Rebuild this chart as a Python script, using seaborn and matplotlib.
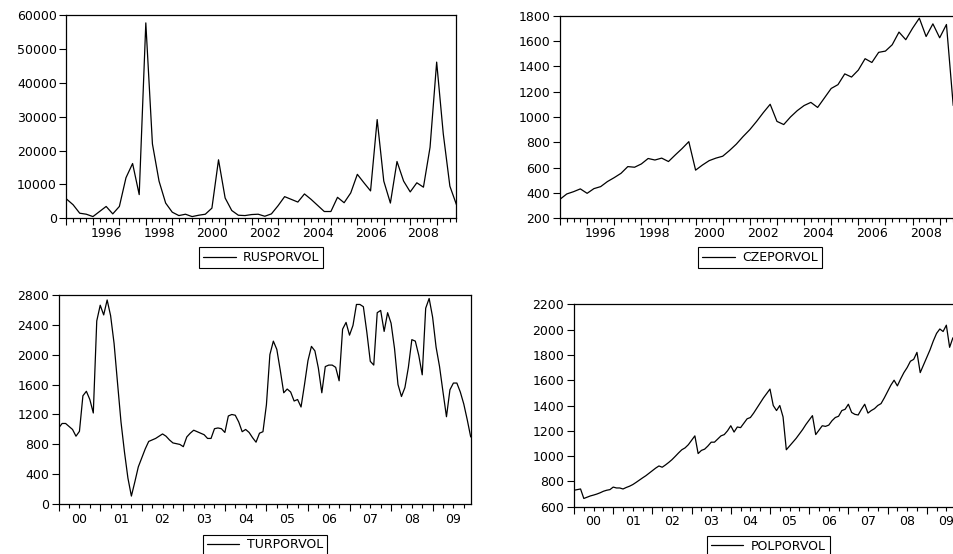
import numpy as np
import pandas as pd
import matplotlib
matplotlib.use("Agg")
from matplotlib import pyplot as plt
import seaborn as sns

# quarterly series, 1995Q1 onwards
rus_vol = [5700, 4000, 1500, 1200, 500, 2000, 3500, 1300, 3500, 12000,
           16200, 7000, 57800, 22000, 11000, 4500, 1800, 800, 1200, 500,
           900, 1200, 3000, 17300, 6000, 2300, 900, 800, 1100, 1200,
           600, 1300, 3700, 6400, 5600, 4800, 7200, 5600, 3800, 2000,
           2000, 6200, 4600, 7500, 13000, 10500, 8100, 29200, 11000, 4500,
           16800, 11000, 7800, 10500, 9200, 21000, 46200, 25000, 9500, 4000]
cze_vol = [350, 392, 410, 432, 397, 434, 450, 490, 521, 555,
           608, 603, 629, 672, 660, 675, 648, 700, 750, 805,
           580, 620, 655, 675, 690, 735, 785, 845, 900, 965,
           1035, 1100, 965, 940, 1000, 1050, 1090, 1115, 1075, 1150,
           1225, 1255, 1340, 1315, 1370, 1460, 1430, 1510, 1520, 1570,
           1670, 1610, 1700, 1780, 1635, 1735, 1625, 1730, 1090]

# monthly series, 2000M01 onwards
tur_vol = [1020, 1080, 1080, 1040, 1000, 910, 975, 1450, 1510, 1400,
           1220, 2450, 2660, 2530, 2730, 2520, 2150, 1620, 1100, 700,
           350, 110, 300, 500, 620, 740, 840, 860, 880, 910,
           940, 910, 860, 820, 810, 800, 770, 900, 950, 990,
           970, 950, 930, 880, 880, 1010, 1020, 1010, 960, 1180,
           1200, 1190, 1100, 970, 1000, 960, 890, 830, 950, 970,
           1330, 2000, 2180, 2070, 1790, 1490, 1540, 1500, 1380, 1400,
           1300, 1600, 1920, 2110, 2050, 1820, 1490, 1840, 1860, 1860,
           1830, 1650, 2340, 2430, 2260, 2390, 2670, 2670, 2640, 2300,
           1910, 1860, 2560, 2590, 2310, 2560, 2420, 2080, 1600, 1440,
           1560, 1830, 2200, 2180, 1990, 1730, 2620, 2750, 2500, 2100,
           1840, 1500, 1170, 1530, 1620, 1620, 1500, 1340, 1130, 900]
pol_vol = [730, 735, 740, 665, 675, 685, 692, 700, 710, 722,
           730, 735, 755, 748, 748, 740, 752, 762, 775, 792,
           810, 828, 845, 865, 885, 905, 922, 912, 930, 950,
           972, 998, 1025, 1050, 1065, 1090, 1125, 1160, 1020, 1045,
           1055, 1080, 1110, 1110, 1135, 1160, 1170, 1200, 1240, 1190,
           1230, 1225, 1260, 1295, 1305, 1340, 1380, 1420, 1460, 1495,
           1530, 1400, 1360, 1400, 1310, 1050, 1080, 1110, 1140, 1175,
           1210, 1250, 1285, 1320, 1170, 1205, 1240, 1235, 1245, 1280,
           1305, 1315, 1360, 1370, 1410, 1345, 1330, 1325, 1370, 1410,
           1340, 1360, 1375, 1400, 1415, 1460, 1510, 1560, 1600, 1555,
           1610, 1660, 1700, 1750, 1765, 1820, 1660, 1720, 1780, 1840,
           1910, 1970, 2005, 1985, 2035, 1860, 1935, 1945]

long_labels = ['1996', '1998', '2000', '2002', '2004', '2006', '2008']
short_labels = ['00', '01', '02', '03', '04', '05', '06', '07', '08', '09']

sns.set_style('ticks')
plt.rcParams['font.family'] = ['DejaVu Sans']
plt.rcParams['font.size'] = 9
plt.rcParams['text.color'] = 'black'
plt.rcParams['xtick.color'] = 'black'
plt.rcParams['ytick.color'] = 'black'
plt.rcParams['axes.edgecolor'] = 'black'

fig = plt.figure(figsize=(9.54, 5.54), dpi=100)


def draw_panel(rect, vals, name, start, freq, xlim, ylim, ystep, first_year, labels, leg_y):
    ax = fig.add_axes(rect)
    dates = start + np.arange(len(vals)) / freq
    df = pd.DataFrame({'date': dates, name: vals})
    sns.lineplot(data=df, x='date', y=name, ax=ax, color='black', linewidth=0.9, label=name)
    ax.set_xlim(*xlim)
    ax.set_ylim(*ylim)
    ax.set_yticks(np.arange(ylim[0], ylim[1] + 1, ystep))
    ax.set_xlabel('')
    ax.set_ylabel('')
    years = np.arange(np.ceil(xlim[0]), xlim[1] + 0.01)
    ax.set_xticks(years)
    ax.set_xticklabels([])
    ax.set_xticks(np.arange(xlim[0], xlim[1] + 0.01, 0.25), minor=True)
    ax.tick_params(axis='x', which='major', length=5, width=0.8, direction='out')
    ax.tick_params(axis='x', which='minor', length=3, width=0.8, direction='out')
    ax.tick_params(axis='y', length=5, width=0.8, direction='out', pad=2, labelsize=9)
    for s in ax.spines.values():
        s.set_linewidth(0.9)
        s.set_visible(True)
    # year labels centred in the middle of each year
    step = 2 if len(labels) < 8 else 1
    sec = ax.secondary_xaxis('bottom')
    sec.set_xticks([first_year + step * k + 0.5 for k in range(len(labels))], labels)
    sec.tick_params(length=0, pad=6, labelsize=9)
    sec.spines['bottom'].set_visible(False)
    leg = ax.legend(loc='upper center', bbox_to_anchor=(0.5, leg_y), frameon=True,
                    fancybox=False, edgecolor='black', framealpha=1, fontsize=9,
                    handlelength=2.6, handletextpad=0.6, borderpad=0.3)
    leg.get_frame().set_linewidth(0.8)
    return ax


draw_panel([0.0697, 0.6060, 0.4088, 0.3661], rus_vol, 'RUSPORVOL', 1995, 4,
           (1995, 2009.75), (0, 60000), 10000, 1996, long_labels, -0.112)
draw_panel([0.5870, 0.6060, 0.4193, 0.3658], cze_vol, 'CZEPORVOL', 1995, 4,
           (1995, 2009.75), (200, 1800), 200, 1996, long_labels, -0.112)
draw_panel([0.0615, 0.0897, 0.4319, 0.3783], tur_vol, 'TURPORVOL', 2000, 12,
           (2000, 2000 + 119 / 12), (0, 2800), 400, 2000, short_labels, -0.115)
draw_panel([0.6017, 0.0854, 0.4074, 0.3653], pol_vol, 'POLPORVOL', 2000, 12,
           (2000, 2000 + 119 / 12), (600, 2200), 200, 2000, short_labels, -0.113)

fig.savefig('out.png', dpi=100)
